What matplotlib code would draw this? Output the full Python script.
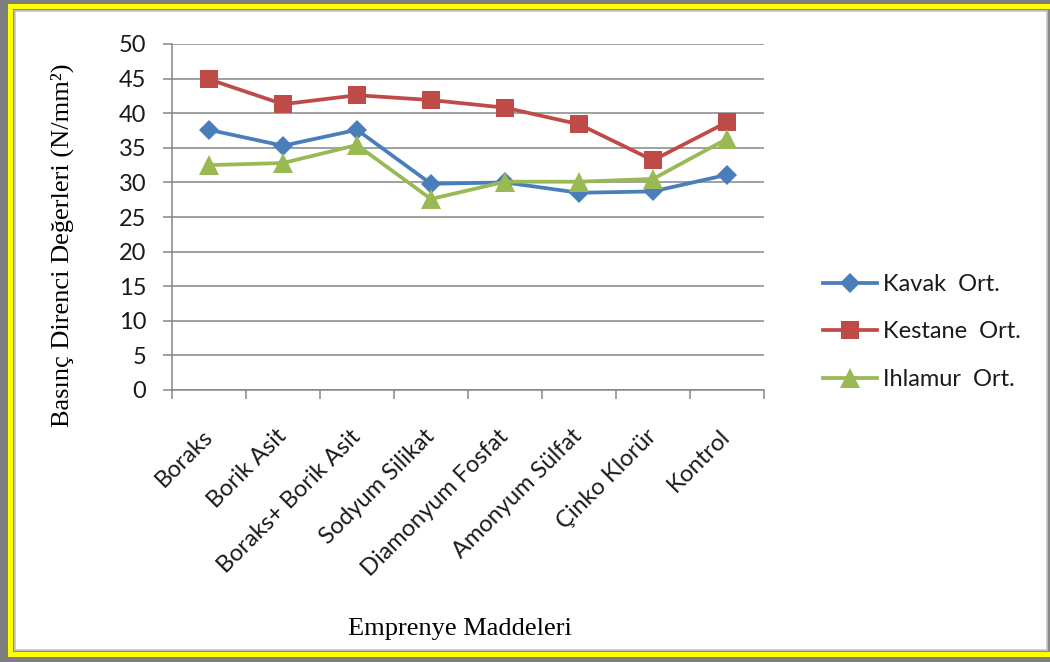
import matplotlib
matplotlib.use('Agg')
import matplotlib.pyplot as plt
from matplotlib.patches import Rectangle

# compressive strength averages per impregnation chemical
maddeler = ['Boraks', 'Borik Asit', 'Boraks+ Borik Asit', 'Sodyum Silikat',
            'Diamonyum Fosfat', 'Amonyum Sülfat', 'Çinko Klorür', 'Kontrol']
kavak = [37.6, 35.3, 37.6, 29.8, 30.0, 28.5, 28.7, 31.1]
kestane = [44.9, 41.3, 42.6, 41.9, 40.8, 38.4, 33.2, 38.7]
ihlamur = [32.5, 32.8, 35.4, 27.6, 30.1, 30.1, 30.5, 36.3]
y_ticks = [0, 5, 10, 15, 20, 25, 30, 35, 40, 45, 50]

W, H = 1050, 662
fig = plt.figure(figsize=(W / 100, H / 100), dpi=100, facecolor='#7f7f7f')


def box(x0, y0, x1, y1, **kw):
    # pixel box (top-left origin) -> figure fraction rectangle
    fig.patches.append(Rectangle((x0 / W, 1 - y1 / H), (x1 - x0) / W, (y1 - y0) / H,
                                 transform=fig.transFigure, **kw))


# yellow frame with grey rims around the white chart area
box(8, 4, 1060, 657, facecolor='#ffff00', edgecolor='none', zorder=-3)
box(13, 9, 1060, 652, facecolor='#8a8a8a', edgecolor='none', zorder=-2)
box(15, 11, 1047, 650, facecolor='white', edgecolor='#c8c8c8', linewidth=1.2, zorder=-1)

ax = fig.add_axes([172 / W, 1 - 390 / H, 592 / W, 346 / H])
ax.set_facecolor('none')

x = list(range(len(maddeler)))
style = dict(linewidth=2.7, markeredgewidth=0)
ax.plot(x, kavak, color='#4a7ebb', marker='D', markersize=10, label='Kavak  Ort.', **style)
ax.plot(x, kestane, color='#be4b48', marker='s', markersize=13, label='Kestane  Ort.', **style)
ax.plot(x, ihlamur, color='#98b954', marker='^', markersize=14, label='Ihlamur  Ort.', **style)

ax.set_xlim(-0.5, len(maddeler) - 0.5)
ax.set_ylim(0, 50)
ax.set_yticks(y_ticks)
ax.yaxis.grid(True, color='#868686', linewidth=1.1)
ax.set_axisbelow(True)

for s in ['top', 'right']:
    ax.spines[s].set_visible(False)
for s in ['left', 'bottom']:
    ax.spines[s].set_color('#868686')
    ax.spines[s].set_linewidth(1.1)

tick_font = dict(family='Lato', size=17, color='#1a1a1a')
ax.tick_params(axis='y', length=6.5, width=1.1, color='#868686', pad=12)
for lab in ax.get_yticklabels():
    lab.set(**tick_font)

ax.set_xticks(x)
ax.set_xticks([i - 0.5 for i in range(len(maddeler) + 1)], minor=True)
ax.tick_params(axis='x', which='major', length=0, pad=31)
ax.tick_params(axis='x', which='minor', length=6.5, width=1.1, color='#868686')
ax.set_xticklabels(maddeler, rotation=45, ha='right', va='center',
                   rotation_mode='anchor', **tick_font)

fig.text(62 / W, 1 - 245 / H, 'Basınç Direnci Değerleri (N/mm²)', rotation=90,
         ha='center', va='center', family='Liberation Serif', size=19)
fig.text(460 / W, 1 - 635 / H, 'Emprenye Maddeleri', ha='center', va='baseline',
         family='Liberation Serif', size=19)

fig.legend(loc='upper left', bbox_to_anchor=(823 / W, 1 - 274 / H), frameon=False,
           prop={'family': 'Lato', 'size': 17}, handlelength=2.3, handletextpad=0.25,
           labelspacing=1.12, borderpad=0, borderaxespad=0, labelcolor='#1a1a1a')

fig.savefig('out.png', dpi=100, facecolor=fig.get_facecolor())
